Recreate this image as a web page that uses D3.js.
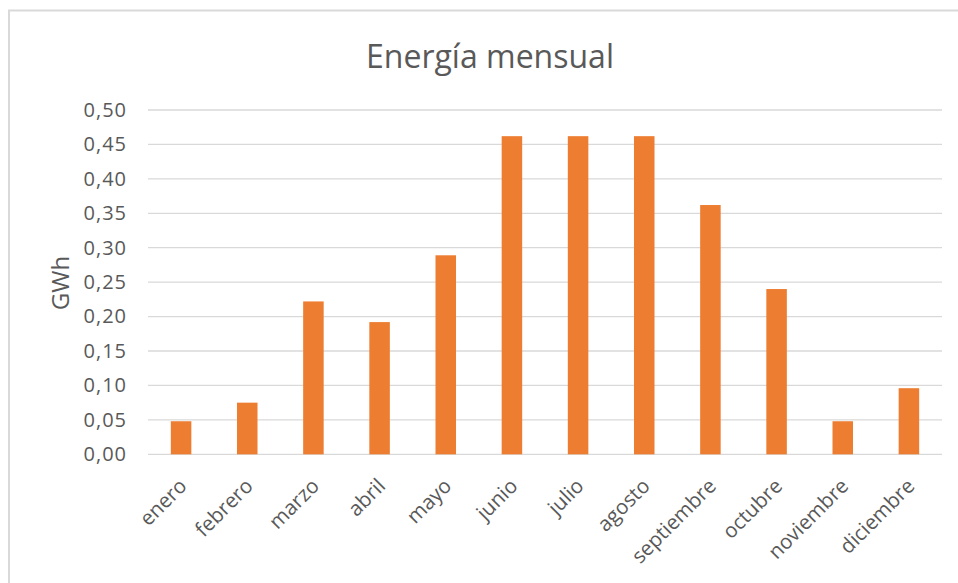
<!DOCTYPE html>
<html><head><meta charset="utf-8">
<script src="https://cdn.jsdelivr.net/npm/d3@7"></script>
<style>body{margin:0;background:#fff;} svg{display:block;}</style>
</head><body>
<svg id="c" width="958" height="583"></svg>
<script>
const title = "Energía mensual";
const yTitle = "GWh";
const months = ["enero","febrero","marzo","abril","mayo","junio","julio","agosto","septiembre","octubre","noviembre","diciembre"];
const values = [0.048,0.075,0.222,0.192,0.289,0.462,0.462,0.462,0.362,0.240,0.048,0.096];
const yTicks = [0,0.05,0.10,0.15,0.20,0.25,0.30,0.35,0.40,0.45,0.50];

const svg = d3.select("#c");
const font = "'Open Sans', sans-serif";
const grey = "#595959";
const m = {l:148, r:942, t:110, b:454.3};

// chart border
svg.append("rect").attr("x",9).attr("y",10.5).attr("width",960).attr("height",600)
  .attr("fill","none").attr("stroke","#d9d9d9").attr("stroke-width",2);

const x = d3.scaleBand().domain(months).range([m.l,m.r]).paddingInner(0.69).paddingOuter(0.345);
const y = d3.scaleLinear().domain([0,0.5]).range([m.b,m.t]);

// gridlines
svg.append("g").selectAll("line").data(yTicks).join("line")
  .attr("x1",m.l).attr("x2",m.r).attr("y1",d=>y(d)).attr("y2",d=>y(d))
  .attr("stroke","#d9d9d9").attr("stroke-width",1.3);

// bars
svg.append("g").selectAll("rect").data(values).join("rect")
  .attr("x",(d,i)=>x(months[i])).attr("width",x.bandwidth())
  .attr("y",d=>y(d)).attr("height",d=>y(0)-y(d)).attr("fill","#ED7D31");

// y axis labels
const fmt = d=>d3.format(".2f")(d).replace(".",",");
const ya = svg.append("g").attr("transform",`translate(${m.l},0)`)
  .call(d3.axisLeft(y).tickValues(yTicks).tickFormat(fmt).tickSize(0).tickPadding(21));
ya.select(".domain").remove();
ya.selectAll("text").attr("font-family",font).attr("font-size",20).attr("letter-spacing",1).attr("fill",grey);

// x axis labels
const xa = svg.append("g").attr("transform",`translate(0,${m.b})`)
  .call(d3.axisBottom(x).tickSize(0));
xa.select(".domain").remove();
xa.selectAll("text").attr("font-family",font).attr("font-size",20.5).attr("fill",grey)
  .attr("text-anchor","end").attr("dy",0).attr("y",0)
  .attr("transform","translate(7,33) rotate(-45)");

// title
svg.append("text").attr("x",490).attr("y",68).attr("text-anchor","middle")
  .attr("font-family",font).attr("font-size",32).attr("fill",grey).text(title);
// y title
svg.append("text").attr("transform","translate(69,283) rotate(-90)").attr("text-anchor","middle")
  .attr("font-family",font).attr("font-size",24).attr("fill",grey).text(yTitle);
</script>
</body></html>
